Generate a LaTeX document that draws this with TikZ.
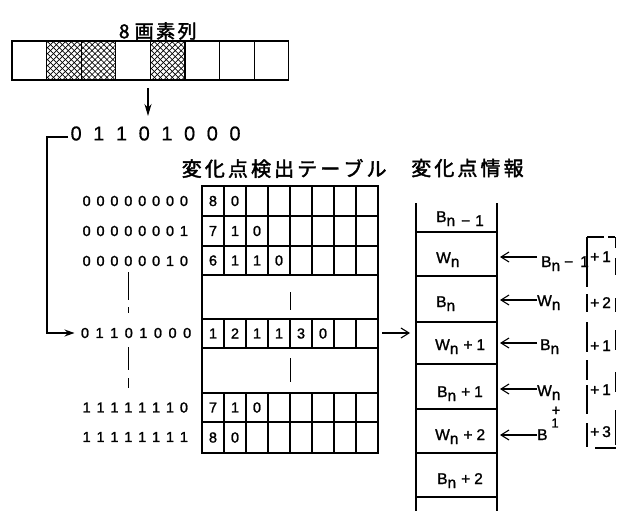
\documentclass[tikz,border=0pt]{standalone}
\usepackage{fontspec}
\setmainfont{Liberation Sans}
\newfontfamily\cjk[FakeBold=2]{Noto Sans CJK JP}
\newfontfamily\dig[FakeBold=1.4]{Liberation Sans}
\newfontfamily\bigdig[FakeBold=0.6]{Liberation Sans}
\usetikzlibrary{arrows.meta,patterns.meta}
\makeatletter
\newcommand\spreadtxt[2]{\@tfor\sp@x:=#2\do{\makebox[#1]{\sp@x}}}
\makeatother
\newcommand\lo[1]{\raisebox{-4pt}{#1}}
\begin{document}
\begin{tikzpicture}[x=1pt,y=-1pt,
  ln/.style={line width=1.3pt},
  thinln/.style={line width=0.8pt},
  txt/.style={inner sep=0pt,font=\dig\fontsize{14.5}{16}\selectfont},
  lbl/.style={inner sep=0pt,anchor=base west,font=\dig\fontsize{15.5}{17}\selectfont},
  hd/.style={inner sep=0pt,anchor=west,font=\cjk\fontsize{20}{22}\selectfont},
  barb/.style={line width=1.1pt,-{Straight Barb[length=8pt,width=10pt]}},
  hatchA/.style={pattern={Lines[angle=45,distance=4.2pt,line width=0.7pt]}},
  hatchB/.style={pattern={Lines[angle=-45,distance=4.2pt,line width=0.7pt]}},
]
\useasboundingbox (0,0) rectangle (621,511);

% title and pixel row
\node[inner sep=0pt,anchor=west,font=\cjk\fontsize{19}{21}\selectfont] (title) at (114.75,31)
  {\makebox[18.5pt]{8}\spreadtxt{21.5pt}{画素列}};
\foreach \i in {1,2,4}
  {\fill[hatchA] ({12+34.6*\i},41) rectangle ({12+34.6*(\i+1)},80);
   \fill[hatchB] ({12+34.6*\i},41) rectangle ({12+34.6*(\i+1)},80);}
\foreach \i in {0,...,7}
  \draw[ln] ({12+34.6*\i},41) rectangle ({12+34.6*(\i+1)},80);

% down arrow and big binary
\coordinate (dnS) at (148,88);
\coordinate (dnE) at (148,116);
\draw[line width=1.1pt,-{Stealth[length=12pt,width=7pt]}] (dnS) -- (dnE);
\node[inner sep=0pt,anchor=west,font=\bigdig\fontsize{20}{22}\selectfont] (bin) at (64.6,133.5)
  {\spreadtxt{22.7pt}{01101000}};

% headers
\node[hd] (hdT) at (180,168.5) {\spreadtxt{23.1pt}{変化点検出テーブル}};
\node[hd] (hdC) at (409.5,168) {\spreadtxt{23.1pt}{変化点情報}};

% left binary labels
\node[txt,anchor=west] (r1) at (79.5,201) {\spreadtxt{13.9pt}{00000000}};
\node[txt,anchor=west] (r2) at (79.5,231) {\spreadtxt{13.9pt}{00000001}};
\node[txt,anchor=west] (r3) at (79.5,261) {\spreadtxt{13.9pt}{00000010}};
\node[txt,anchor=west] (rsel) at (77.5,333) {\spreadtxt{14.6pt}{01101000}};
\node[txt,anchor=west] (r5) at (79.5,407.5) {\spreadtxt{13.9pt}{11111110}};
\node[txt,anchor=west] (r6) at (79.5,437) {\spreadtxt{13.9pt}{11111111}};
\draw[line width=0.7pt] (128,272) -- (128,300) (128,307) -- (128,313)
  (128,347) -- (128,370) (128,378) -- (128,388);

% connector from big binary to selected row
\coordinate (binL) at (68,137);
\draw[ln,-{Stealth[length=10pt,width=7pt]}] (binL) -- ++(-21,0) |- ([xshift=-3pt]rsel.west);

% table
\draw[ln] (202,186) rectangle (378,453);
\foreach \y in {216,246,275,319,348,393,422}
  \draw[ln] (202,\y) -- (378,\y);
\foreach \x in {224,246,...,356}
  {\draw[ln] (\x,186) -- (\x,275);
   \draw[ln] (\x,319) -- (\x,348);
   \draw[ln] (\x,393) -- (\x,453);}
\draw[thinln] (290,292) -- (290,310);
\draw[thinln] (290,358) -- (290,382);
\foreach \y/\vals [count=\r] in {201/{8,0},231/{7,1,0},260.5/{6,1,1,0},333.5/{1,2,1,1,3,0},407.5/{7,1,0},437.5/{8,0}}
  \foreach \v [count=\i] in \vals
    \node[txt] (c\r-\i) at ({202+22*\i-11},\y) {\v};

% arrow table -> column
\coordinate (tabR) at (382,333);
\coordinate (colL) at (410,333);
\draw[barb] (tabR) -- (colL);

% change point column
\draw[ln] (416,203) -- (416,511);
\draw[ln] (497,203) -- (497,511);
\foreach \y in {232,276,322,364,409,453,497}
  \draw[ln] (416,\y) -- (497,\y);
\node[lbl] (k0) at (436,222) {B\lo{n\hspace{6pt}−\hspace{5pt}1}};
\node[lbl] (k1) at (436,263) {W\lo{n}};
\node[lbl] (k2) at (436,307) {B\lo{n}};
\node[lbl] (k3) at (435,350) {W\lo{n}\hspace{5pt}+\hspace{4pt}1};
\node[lbl] (k4) at (437,397) {B\lo{n}\hspace{5pt}+\hspace{4pt}1};
\node[lbl] (k5) at (435,440) {W\lo{n}\hspace{5pt}+\hspace{4pt}2};
\node[lbl] (k6) at (437,484) {B\lo{n}\hspace{5pt}+\hspace{4pt}2};

% right arrows and labels
\foreach \y [count=\i] in {257,300,343,389,435}
  {\coordinate (aS\i) at (537,\y);
   \coordinate (aE\i) at (500,\y);
   \draw[barb] (aS\i) -- (aE\i);}
\node[lbl] (s1) at (541,267) {B\lo{n}\hspace{4pt}−\hspace{7pt}1};
\node[lbl] (s2) at (537,306) {W\lo{n}};
\node[lbl] (s3) at (540,350) {B\lo{n}};
\node[lbl] (s4) at (537,396) {W\lo{n}};
\node[inner sep=0pt,font=\dig\fontsize{15}{16}\selectfont] (s4p) at (556,411) {+};
\node[inner sep=0pt,font=\dig\fontsize{13}{15}\selectfont] (s4o) at (555,423) {1};
\node[lbl] (s5) at (537,440) {B};

% bracket with increments
\draw[ln] (587,237) -- (587,287) (587,294) -- (587,312) (587,322) -- (587,352)
  (587,360) -- (587,380) (587,385) -- (587,414) (587,423) -- (587,447);
\draw[ln] (587,237) -- (604,237) (608,237) -- (615,237);
\draw[thinln] (615,237) -- (615,248) (615,258) -- (615,275) (615,298) -- (615,312)
  (615,330) -- (615,350) (615,372) -- (615,392) (615,410) -- (615,445);
\draw[ln] (595,448) -- (616,448);
\node[lbl] (p1) at (590,262) {+\hspace{3pt}1};
\node[lbl] (p2) at (590,308) {+\hspace{3pt}2};
\node[lbl] (p3) at (590,351) {+\hspace{3pt}1};
\node[lbl] (p4) at (590,395) {+\hspace{3pt}1};
\node[lbl] (p5) at (590,437) {+\hspace{3pt}3};
\end{tikzpicture}
\end{document}
